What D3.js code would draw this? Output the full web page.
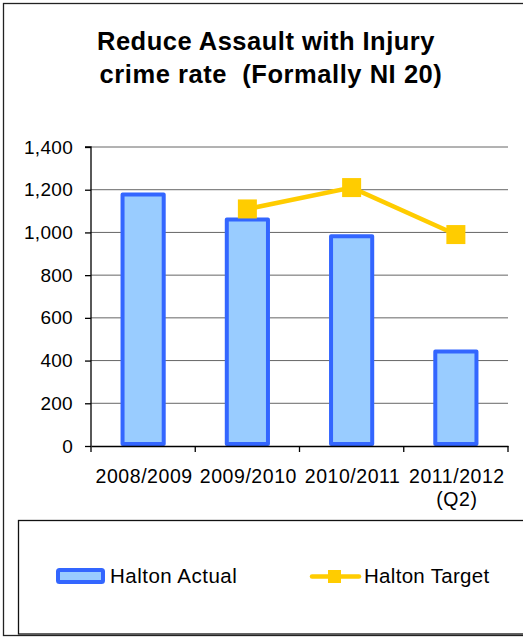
<!DOCTYPE html>
<html>
<head>
<meta charset="utf-8">
<script src="https://cdn.jsdelivr.net/npm/d3@7"></script>
<style>
body { margin: 0; background: #fff; }
text { font-family: "Liberation Sans", Arial, sans-serif; }
</style>
</head>
<body>
<script>
const years = ["2008/2009", "2009/2010", "2010/2011", "2011/2012"];
const yearNotes = ["", "", "", "(Q2)"];
const actual = [1178, 1060, 982, 442];
const target = [null, 1110, 1210, 990];
const yTicks = [0, 200, 400, 600, 800, 1000, 1200, 1400];

const svg = d3.select("body").append("svg")
	.attr("width", 523)
	.attr("height", 637);

// outer frame
svg.append("rect")
	.attr("x", 3.5).attr("y", 3.5)
	.attr("width", 530).attr("height", 632)
	.attr("fill", "none").attr("stroke", "#222").attr("stroke-width", 1.3);

svg.append("text")
	.attr("x", 266).attr("y", 50)
	.attr("text-anchor", "middle")
	.style("font-size", "25.5px").style("font-weight", "bold")
	.style("letter-spacing", "0.5px")
	.text("Reduce Assault with Injury");
svg.append("text")
	.attr("x", 271).attr("y", 83)
	.attr("text-anchor", "middle")
	.style("font-size", "25.5px").style("font-weight", "bold")
	.style("letter-spacing", "0.55px")
	.style("white-space", "pre")
	.attr("xml:space", "preserve")
	.text("crime rate  (Formally NI 20)");

const pLeft = 91, pRight = 508, pTop = 147, pBottom = 446;

const x = d3.scaleBand().domain(years).range([pLeft, pRight]).padding(0);
const y = d3.scaleLinear().domain([0, 1400]).range([pBottom, pTop]);

// gridlines
svg.append("g").selectAll("line")
	.data(yTicks.filter(d => d > 0))
	.join("line")
	.attr("x1", pLeft).attr("x2", pRight)
	.attr("y1", d => y(d)).attr("y2", d => y(d))
	.attr("stroke", "#666").attr("stroke-width", 1);

// bars
const bw = x.bandwidth() * 0.395;
svg.append("g").selectAll("rect")
	.data(actual)
	.join("rect")
	.attr("x", (d, i) => x(years[i]) + x.bandwidth() / 2 - bw / 2)
	.attr("y", d => y(d))
	.attr("width", bw)
	.attr("height", d => pBottom - 2 - y(d))
	.attr("fill", "#99CCFF")
	.attr("stroke", "#3366FF")
	.attr("stroke-width", 4)
	.attr("stroke-linejoin", "round");

// y axis
const yAxis = svg.append("g")
	.attr("transform", `translate(${pLeft},0)`)
	.call(d3.axisLeft(y).tickValues(yTicks).tickSize(6).tickPadding(12)
		.tickFormat(d3.format(",")));
yAxis.select(".domain").attr("stroke", "#000").attr("stroke-width", 1.3).attr("d", `M-6,${pTop}H0V${pBottom}`);
yAxis.selectAll("line").attr("stroke", "#000").attr("stroke-width", 1.3);
yAxis.selectAll("text").style("font-size", "19px").attr("fill", "#000")
	.style("letter-spacing", "0.3px")
	.style("font-family", "'Liberation Sans', Arial, sans-serif");

// x axis
const xAxis = svg.append("g")
	.attr("transform", `translate(0,${pBottom})`)
	.call(d3.axisBottom(x).tickSize(0).tickFormat(""));
xAxis.select(".domain").attr("stroke", "#000").attr("stroke-width", 1.3);
xAxis.selectAll(".edge").data(years.concat(["end"])).join("line")
	.attr("x1", (d, i) => pLeft + i * x.step()).attr("x2", (d, i) => pLeft + i * x.step())
	.attr("y1", 0).attr("y2", 6)
	.attr("stroke", "#000").attr("stroke-width", 1.3);
xAxis.selectAll(".lab").data(years).join("text")
	.attr("x", d => x(d) + x.bandwidth() / 2 + 1)
	.attr("y", 37)
	.attr("text-anchor", "middle")
	.style("font-size", "19.5px").style("letter-spacing", "0.55px").attr("fill", "#000")
	.text(d => d);
xAxis.selectAll(".note").data(yearNotes).join("text")
	.attr("x", (d, i) => x(years[i]) + x.bandwidth() / 2 + 1)
	.attr("y", 60)
	.attr("text-anchor", "middle")
	.style("font-size", "19.5px").style("letter-spacing", "0.55px").attr("fill", "#000")
	.text(d => d);

// target line
const pts = target.map((v, i) => ({ v, c: years[i] })).filter(d => d.v != null);
svg.append("path")
	.datum(pts)
	.attr("fill", "none")
	.attr("stroke", "#FFCC00")
	.attr("stroke-width", 4.5)
	.attr("d", d3.line().x(d => x(d.c) + x.bandwidth() / 2).y(d => y(d.v)));
svg.append("g").selectAll("rect")
	.data(pts)
	.join("rect")
	.attr("x", d => x(d.c) + x.bandwidth() / 2 - 9.5)
	.attr("y", d => y(d.v) - 9.5)
	.attr("width", 19).attr("height", 19)
	.attr("fill", "#FFCC00");

// legend box
const lg = svg.append("g");
lg.append("rect")
	.attr("x", 18.5).attr("y", 520.5)
	.attr("width", 520).attr("height", 113.5)
	.attr("fill", "#fff").attr("stroke", "#111").attr("stroke-width", 1.3);
lg.append("rect")
	.attr("x", 58).attr("y", 570)
	.attr("width", 45).attr("height", 12)
	.attr("rx", 1.5)
	.attr("fill", "#99CCFF").attr("stroke", "#3366FF").attr("stroke-width", 4);
lg.append("text")
	.attr("x", 110).attr("y", 583)
	.style("font-size", "20.5px").style("letter-spacing", "0.5px").attr("fill", "#000")
	.text("Halton Actual");
lg.append("line")
	.attr("x1", 312).attr("x2", 359)
	.attr("y1", 576.5).attr("y2", 576.5)
	.attr("stroke", "#FFCC00").attr("stroke-width", 4.5)
	.attr("stroke-linecap", "round");
lg.append("rect")
	.attr("x", 328).attr("y", 570).attr("width", 13).attr("height", 13)
	.attr("fill", "#FFCC00");
lg.append("text")
	.attr("x", 364).attr("y", 583)
	.style("font-size", "20.5px").style("letter-spacing", "0.3px").attr("fill", "#000")
	.text("Halton Target");
</script>
</body>
</html>
